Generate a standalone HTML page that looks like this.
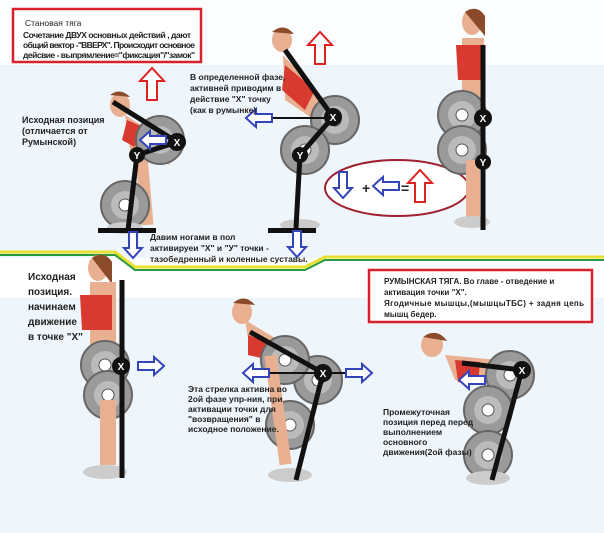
<!DOCTYPE html>
<html><head><meta charset="utf-8"><style>
body{margin:0;width:604px;height:533px;overflow:hidden;background:#eef5fb;font-family:"Liberation Sans","Noto Sans CJK SC",sans-serif}
svg{display:block}
text{font-family:"Liberation Sans","Noto Sans CJK SC",sans-serif;fill:#222}
</style></head><body>
<svg width="604" height="533" viewBox="0 0 604 533" xmlns="http://www.w3.org/2000/svg">
<defs>
<g id="plate"><circle r="24" fill="#9a9a9a" stroke="#666" stroke-width="2"/><circle r="14" fill="#bbb"/><circle r="6" fill="#fff" stroke="#555"/></g>
<g id="xdot"><circle r="9" fill="#111"/><text x="0" y="4" text-anchor="middle" font-size="10" font-weight="bold" style="fill:#fff">X</text></g>
<g id="ydot"><circle r="8" fill="#111"/><text x="0" y="4" text-anchor="middle" font-size="10" font-weight="bold" style="fill:#fff">Y</text></g>
<path id="al" d="M0,0 L10,-9 L10,-4 L26,-4 L26,4 L10,4 L10,9 Z" fill="#fff" stroke="#3344bb" stroke-width="2"/>
<path id="ar" d="M0,0 L-10,-9 L-10,-4 L-26,-4 L-26,4 L-10,4 L-10,9 Z" fill="#fff" stroke="#3344bb" stroke-width="2"/>
<path id="ad" d="M0,0 L-9,-10 L-4,-10 L-4,-26 L4,-26 L4,-10 L9,-10 Z" fill="#fff" stroke="#3344bb" stroke-width="2"/>
<path id="au" d="M0,0 L-12,13 L-5,13 L-5,32 L5,32 L5,13 L12,13 Z" fill="#fff" stroke="#dd2222" stroke-width="2"/>
</defs>
<rect x="0" y="0" width="604" height="65" fill="#fbfdff"/>
<rect x="0" y="258" width="604" height="40" fill="#fff"/>
<polyline points="0,252 115,252 135,267 305,267 325,257 604,257" fill="none" stroke="#e8e030" stroke-width="3"/>
<polyline points="0,255 115,255 135,270 305,270 325,260 604,260" fill="none" stroke="#2a9a40" stroke-width="2"/>

<rect x="13" y="9" width="188" height="53" fill="#fff" stroke="#d8202a" stroke-width="2.5"/>
<text x="25" y="26" font-size="8.5">Становая тяга</text>
<text x="23" y="38" font-size="8.5" font-weight="bold" textLength="168">Сочетание ДВУХ основных действий , дают</text>
<text x="23" y="48" font-size="8.5" font-weight="bold" textLength="172">общий вектор -"ВВЕРХ". Происходит основное</text>
<text x="23" y="58" font-size="8.5" font-weight="bold" textLength="172">дейсвие - выпрямление="фиксация"/"замок"</text>
<use href="#au" x="152" y="68"/>

<g>
<ellipse cx="120" cy="105" rx="10" ry="12" fill="#e8b090"/>
<path d="M110,95 q10,-8 20,2" fill="#8b4a2a"/>
<path d="M125,115 L165,140 L170,165 L130,150 Z" fill="#e8b090"/>
<path d="M127,120 L150,130 L140,150 L122,140 Z" fill="#d83a30"/>
<rect x="138" y="145" width="12" height="80" fill="#e8b090" transform="rotate(-5 144 185)"/>
<use href="#plate" x="160" y="140"/>
<use href="#plate" x="125" y="205"/>
<ellipse cx="125" cy="228" rx="18" ry="6" fill="#ccc"/>
<line x1="113" y1="102" x2="177" y2="142" stroke="#111" stroke-width="5"/>
<line x1="177" y1="142" x2="137" y2="155" stroke="#111" stroke-width="5"/>
<line x1="137" y1="155" x2="128" y2="230" stroke="#111" stroke-width="5"/>
<rect x="98" y="228" width="58" height="5" fill="#111"/>
<use href="#xdot" x="177" y="142"/><use href="#ydot" x="137" y="155"/>
<use href="#al" x="140" y="140"/>
<use href="#ad" x="133" y="258"/>
</g>
<text x="22" y="123" font-size="9" font-weight="bold">Исходная позиция</text>
<text x="22" y="134" font-size="9" font-weight="bold">(отличается от</text>
<text x="22" y="145" font-size="9" font-weight="bold">Румынской)</text>

<g>
<ellipse cx="282" cy="40" rx="10" ry="12" fill="#e8b090"/>
<path d="M272,32 q12,-10 22,2" fill="#8b4a2a"/>
<path d="M283,55 L325,100 L330,130 L285,100 Z" fill="#e8b090"/>
<path d="M285,65 L315,90 L305,110 L282,90 Z" fill="#d83a30"/>
<use href="#plate" x="335" y="120"/>
<use href="#plate" x="305" y="150"/>
<ellipse cx="300" cy="225" rx="20" ry="6" fill="#ccc"/>
<line x1="285" y1="50" x2="333" y2="117" stroke="#111" stroke-width="5"/>
<line x1="333" y1="117" x2="300" y2="155" stroke="#111" stroke-width="5"/>
<line x1="300" y1="155" x2="296" y2="228" stroke="#111" stroke-width="5"/>
<line x1="270" y1="118" x2="325" y2="118" stroke="#111" stroke-width="2"/>
<rect x="268" y="228" width="48" height="5" fill="#111"/>
<use href="#xdot" x="333" y="117"/><use href="#ydot" x="300" y="155"/>
<use href="#al" x="246" y="118"/>
<use href="#ad" x="297" y="257"/>
<use href="#au" x="320" y="32"/>
</g>
<text x="190" y="80" font-size="8.5" font-weight="bold">В определенной фазе,</text>
<text x="190" y="91" font-size="8.5" font-weight="bold">активней приводим в</text>
<text x="190" y="102" font-size="8.5" font-weight="bold">действие "Х" точку</text>
<text x="190" y="113" font-size="8.5" font-weight="bold">(как в румынке)</text>

<ellipse cx="397" cy="188" rx="72" ry="28" fill="#fff" stroke="#a02030" stroke-width="2"/>
<use href="#ad" x="343" y="198"/>
<text x="362" y="193" font-size="14" font-weight="bold">+</text>
<use href="#al" x="373" y="186"/>
<text x="401" y="193" font-size="14" font-weight="bold">=</text>
<use href="#au" x="420" y="170"/>

<g>
<ellipse cx="472" cy="22" rx="10" ry="13" fill="#e8b090"/>
<path d="M465,12 q12,-8 20,4 l0,20" fill="#8b4a2a"/>
<rect x="462" y="38" width="22" height="70" fill="#e8b090"/>
<path d="M456,45 L482,45 L484,80 L458,80 Z" fill="#d83a30"/>
<rect x="462" y="105" width="22" height="28" fill="#999"/>
<use href="#plate" x="462" y="115"/>
<use href="#plate" x="462" y="150"/>
<rect x="466" y="160" width="14" height="60" fill="#e8b090"/>
<ellipse cx="472" cy="222" rx="18" ry="6" fill="#ccc"/>
<line x1="483" y1="45" x2="483" y2="230" stroke="#111" stroke-width="5"/>
<use href="#xdot" x="483" y="118"/><use href="#ydot" x="483" y="162"/>
</g>

<text x="150" y="240" font-size="8.5" font-weight="bold">Давим ногами в пол</text>
<text x="150" y="251" font-size="8.5" font-weight="bold">активируеи "Х" и "У" точки -</text>
<text x="150" y="262" font-size="8.5" font-weight="bold">тазобедренный и коленные суставы.</text>

<text x="28" y="280" font-size="10" font-weight="bold">Исходная</text>
<text x="28" y="295" font-size="10" font-weight="bold">позиция.</text>
<text x="28" y="310" font-size="10" font-weight="bold">начинаем</text>
<text x="28" y="325" font-size="10" font-weight="bold">движение</text>
<text x="28" y="340" font-size="10" font-weight="bold">в точке "Х"</text>

<g>
<ellipse cx="98" cy="268" rx="10" ry="13" fill="#e8b090"/>
<path d="M92,258 q12,-8 20,4 l0,22" fill="#8b4a2a"/>
<rect x="90" y="282" width="26" height="80" fill="#e8b090"/>
<path d="M80,295 L112,295 L112,330 L82,330 Z" fill="#d83a30"/>
<rect x="95" y="360" width="24" height="25" fill="#999"/>
<use href="#plate" x="105" y="365"/>
<use href="#plate" x="108" y="395"/>
<rect x="100" y="400" width="16" height="65" fill="#e8b090"/>
<ellipse cx="105" cy="472" rx="22" ry="7" fill="#ccc"/>
<line x1="122" y1="280" x2="122" y2="478" stroke="#111" stroke-width="5"/>
<use href="#xdot" x="121" y="366"/>
<use href="#ar" x="164" y="366"/>
</g>

<g>
<ellipse cx="242" cy="312" rx="10" ry="12" fill="#e8b090"/>
<path d="M233,303 q12,-10 22,2" fill="#8b4a2a"/>
<path d="M245,320 L320,365 L325,395 L250,350 Z" fill="#e8b090"/>
<path d="M248,335 L275,345 L270,360 L248,355 Z" fill="#d83a30"/>
<use href="#plate" x="318" y="380"/>
<use href="#plate" x="285" y="360"/>
<use href="#plate" x="290" y="425"/>
<rect x="272" y="355" width="12" height="110" fill="#e8b090" transform="rotate(-8 278 410)"/>
<ellipse cx="290" cy="475" rx="22" ry="7" fill="#ccc"/>
<line x1="250" y1="332" x2="323" y2="373" stroke="#111" stroke-width="5"/>
<line x1="323" y1="373" x2="296" y2="480" stroke="#111" stroke-width="5"/>
<line x1="270" y1="373" x2="350" y2="373" stroke="#111" stroke-width="2"/>
<use href="#xdot" x="323" y="373"/>
<use href="#al" x="243" y="373"/>
<use href="#ar" x="372" y="373"/>
</g>
<text x="188" y="392" font-size="8.5" font-weight="bold">Эта стрелка активна во</text>
<text x="188" y="402" font-size="8.5" font-weight="bold">2ой фазе упр-ния, при</text>
<text x="188" y="412" font-size="8.5" font-weight="bold">активации точки для</text>
<text x="188" y="422" font-size="8.5" font-weight="bold">"возвращения" в</text>
<text x="188" y="432" font-size="8.5" font-weight="bold">исходное положение.</text>

<rect x="369" y="270" width="223" height="52" fill="#fff" stroke="#d8202a" stroke-width="2.5"/>
<text x="384" y="284" font-size="8" font-weight="bold">РУМЫНСКАЯ ТЯГА. Во главе - отведение и</text>
<text x="384" y="295" font-size="8" font-weight="bold">активация точки "Х".</text>
<text x="384" y="306" font-size="8" font-weight="bold" textLength="200">Ягодичные мышцы,(мышцыТБС) + задня цепь</text>
<text x="384" y="317" font-size="8" font-weight="bold">мышц бедер.</text>

<g>
<ellipse cx="432" cy="345" rx="11" ry="12" fill="#e8b090"/>
<path d="M423,337 q14,-10 24,4" fill="#8b4a2a"/>
<path d="M445,355 L520,362 L525,385 L455,380 Z" fill="#e8b090"/>
<path d="M455,360 L480,362 L478,385 L458,382 Z" fill="#d83a30"/>
<use href="#plate" x="510" y="375"/>
<use href="#plate" x="488" y="410"/>
<use href="#plate" x="488" y="455"/>
<ellipse cx="488" cy="478" rx="22" ry="7" fill="#ccc"/>
<line x1="462" y1="363" x2="522" y2="370" stroke="#111" stroke-width="5"/>
<line x1="522" y1="370" x2="492" y2="480" stroke="#111" stroke-width="5"/>
<use href="#xdot" x="522" y="370"/>
<use href="#al" x="459" y="380"/>
</g>
<text x="383" y="415" font-size="8.5" font-weight="bold">Промежуточная</text>
<text x="383" y="425" font-size="8.5" font-weight="bold">позиция перед перед</text>
<text x="383" y="435" font-size="8.5" font-weight="bold">выполнением</text>
<text x="383" y="445" font-size="8.5" font-weight="bold">основного</text>
<text x="383" y="455" font-size="8.5" font-weight="bold">движения(2ой фазы)</text>
</svg>
</body></html>
